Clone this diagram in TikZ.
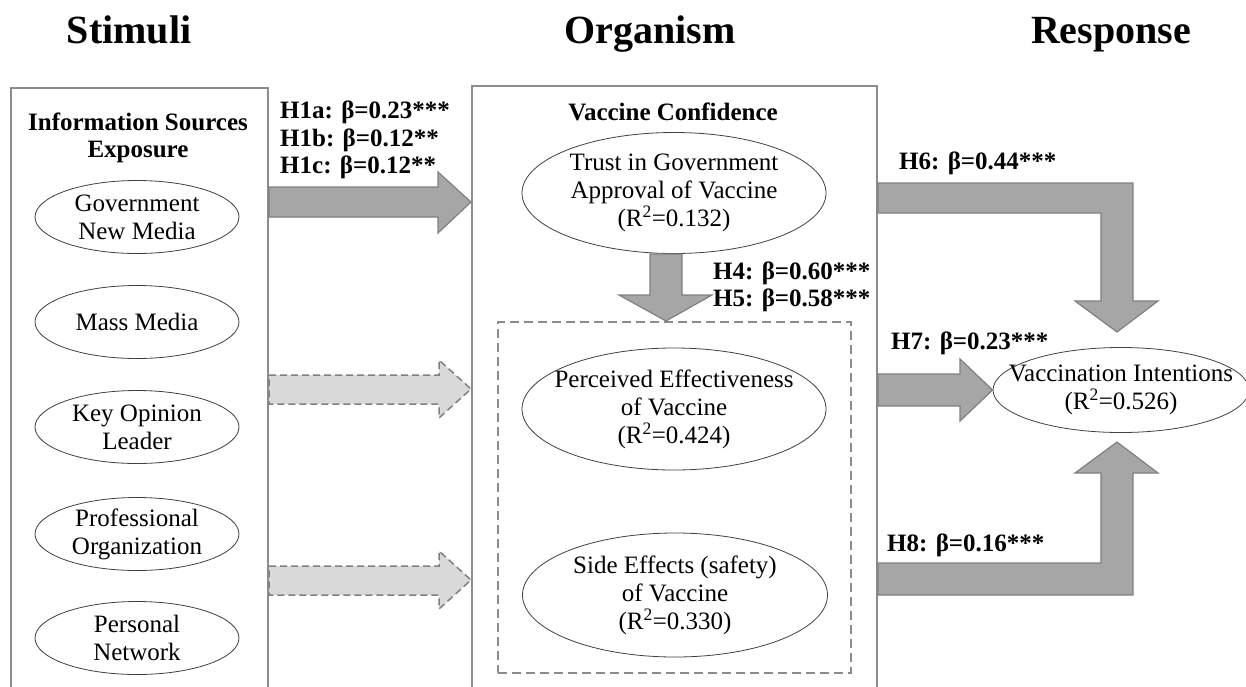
\documentclass[tikz,border=0pt]{standalone}
\usepackage{fontspec}
\setmainfont{Liberation Serif}
\usetikzlibrary{shapes.geometric}
\definecolor{boxgray}{HTML}{8C8C8C}
\definecolor{rimgray}{HTML}{808080}
\definecolor{arrowgray}{HTML}{A6A6A6}
\definecolor{lightarrow}{HTML}{D9D9D9}

\begin{document}
\begin{tikzpicture}[x=1pt, y=-1pt,
        txt/.style={font=\fontsize{25}{28}\selectfont},
        lbl/.style={font=\fontsize{25}{27.5}\selectfont\bfseries, align=left, inner sep=0pt},
        heading/.style={font=\fontsize{40}{44}\selectfont\bfseries, anchor=base},
        colbox/.style={draw=boxgray, line width=2pt, anchor=north west, inner sep=0pt},
        construct/.style={ellipse, draw=black!75, line width=0.8pt, fill=white, align=center, inner xsep=-30pt, inner ysep=-10pt, txt},
        solidarrow/.style={fill=arrowgray, draw=rimgray, line width=1.2pt, line join=miter},
        dasharrow/.style={fill=lightarrow, draw=rimgray, line width=1.5pt, dash pattern=on 7pt off 4pt}]
        \useasboundingbox (0,0) rectangle (1246,686);

        \node[heading] (stim) at (129,43) {Stimuli};
        \node[heading] (org) at (650,43) {Organism};
        \node[heading] (resp) at (1111,43) {Response};

        \node[colbox, minimum width=257pt, minimum height=620pt] (stimbox) at (10,87) {};
        \node[colbox, minimum width=405pt, minimum height=620pt] (orgbox) at (471,85) {};
        \node[colbox, dash pattern=on 9pt off 5pt, minimum width=353pt, minimum height=351pt] (vcbox) at (497,321) {};

        \node[lbl, align=center] (isexp) at (138,138) {Information Sources\\Exposure};
        \node[construct, minimum width=204pt, minimum height=73pt] (gnm) at (137,217) {Government\\New Media};
        \node[construct, minimum width=204pt, minimum height=73pt] (mm) at (137,322) {Mass Media};
        \node[construct, minimum width=204pt, minimum height=73pt] (kol) at (137,427) {Key Opinion\\Leader};
        \node[construct, minimum width=204pt, minimum height=73pt] (po) at (137,534) {Professional\\Organization};
        \node[construct, minimum width=204pt, minimum height=73pt] (pn) at (137,638) {Personal\\Network};

        \node[lbl, align=center] (vconf) at (673,112) {Vaccine Confidence};
        \node[construct, minimum width=304pt, minimum height=121pt] (tga) at (674,193) {Trust in Government\\Approval of Vaccine\\(R\textsuperscript{2}=0.132)};
        \node[construct, minimum width=304pt, minimum height=122pt] (pev) at (674,409) {Perceived Effectiveness\\of Vaccine\\(R\textsuperscript{2}=0.424)};
        \node[construct, minimum width=305pt, minimum height=124pt] (sev) at (675,595) {Side Effects (safety)\\of Vaccine\\(R\textsuperscript{2}=0.330)};
        \node[construct, minimum width=256pt, minimum height=85pt] (vi) at (1121,390) {Vaccination Intentions\\(R\textsuperscript{2}=0.526)};

        \draw[solidarrow] (stimbox.east |- 0,187) -- (438,187) -- (438,172) -- (orgbox.west |- 0,202) -- (438,233) -- (438,217) -- (stimbox.east |- 0,217) -- cycle;
        \draw[dasharrow] (stimbox.east |- 0,375) -- (439,375) -- (439,360) -- (orgbox.west |- 0,389) -- (439,418) -- (439,404) -- (stimbox.east |- 0,404) -- cycle;
        \draw[dasharrow] (stimbox.east |- 0,566) -- (439,566) -- (439,551) -- (orgbox.west |- 0,580) -- (439,609) -- (439,595) -- (stimbox.east |- 0,595) -- cycle;
        \draw[solidarrow] (650,254) -- (650,295) -- (619,295) -- (vcbox.north -| 666,0) -- (712,295) -- (682,295) -- (682,254) -- cycle;
        \draw[solidarrow] (orgbox.east |- 0,183) -- (1133,183) -- (1133,301) -- (1158,301) -- (1117,332) -- (1075,301) -- (1101,301) -- (1101,213) -- (orgbox.east |- 0,213) -- cycle;
        \draw[solidarrow] (orgbox.east |- 0,374) -- (960,374) -- (960,359) -- (vi.west) -- (960,421) -- (960,406) -- (orgbox.east |- 0,406) -- cycle;
        \draw[solidarrow] (orgbox.east |- 0,595) -- (1133,595) -- (1133,473) -- (1158,473) -- (1117,442) -- (1075,473) -- (1101,473) -- (1101,563) -- (orgbox.east |- 0,563) -- cycle;

        \node[lbl, anchor=west] (h1) at (280,140) {H1a: β=0.23***\\H1b: β=0.12**\\H1c: β=0.12**};
        \node[lbl, anchor=west] (h45) at (713,287) {H4: β=0.60***\\H5: β=0.58***};
        \node[lbl, anchor=west] (h6) at (899,163) {H6: β=0.44***};
        \node[lbl, anchor=west] (h7) at (891,343) {H7: β=0.23***};
        \node[lbl, anchor=west] (h8) at (887,545) {H8: β=0.16***};
\end{tikzpicture}
\end{document}
